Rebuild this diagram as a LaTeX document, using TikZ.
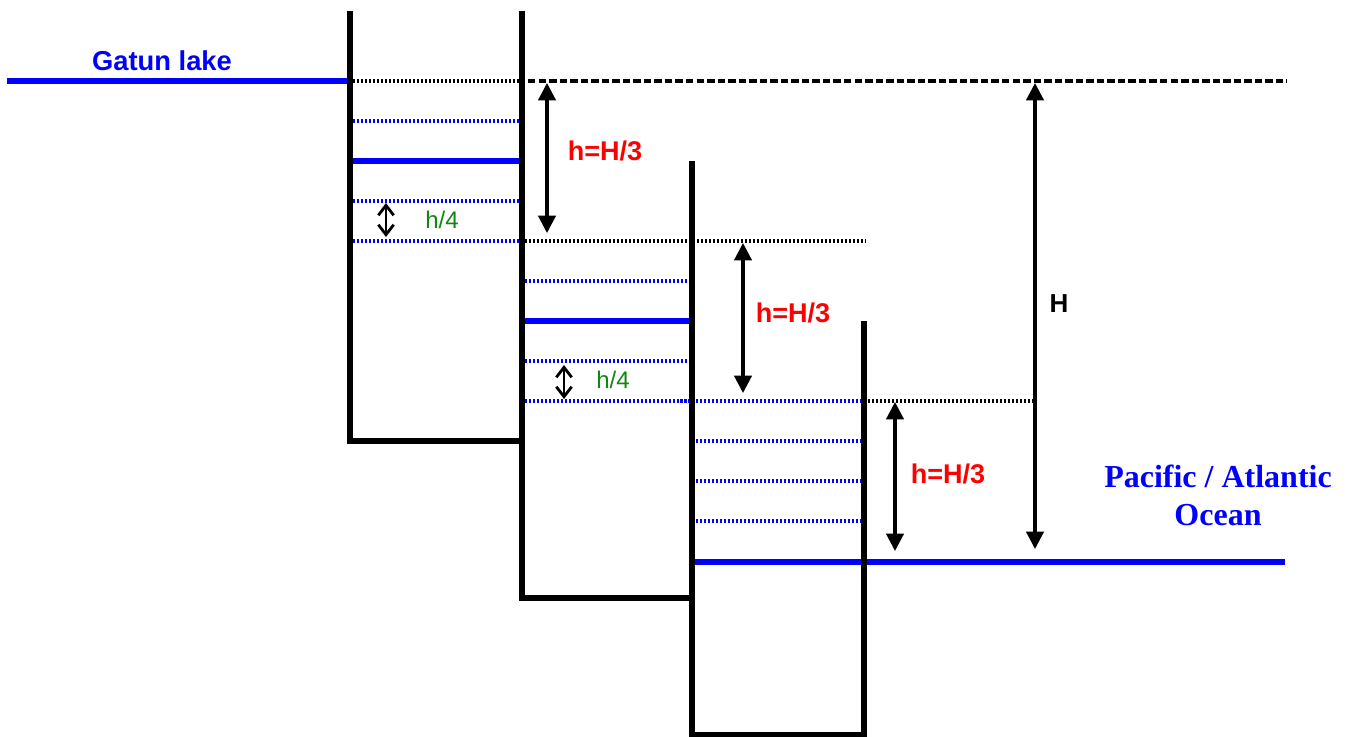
\documentclass[tikz,border=0pt]{standalone}
\usepackage{fontspec}
\setmainfont{Liberation Sans}
\newfontfamily\serifbold[BoldFont=Liberation Serif Bold]{Liberation Serif}
\usetikzlibrary{arrows.meta}
\definecolor{lockgreen}{RGB}{16,135,16}
\tikzset{
  x=0.75pt,y=-0.75pt,
  wall/.style={line width=4.4pt,line join=miter,line cap=butt},
  water/.style={line width=4.2pt,blue},
  level/.style={line width=2.6pt,blue,dash pattern=on 1.5pt off 1.5pt},
  ref/.style={line width=2.6pt,black,dash pattern=on 1.5pt off 1.5pt},
  refdash/.style={line width=2.6pt,black,dash pattern=on 5.6pt off 2.3pt},
  dim/.style={line width=2.3pt,{Triangle[length=13pt,width=13pt]}-{Triangle[length=13pt,width=13pt]}},
  smalldim/.style={line width=2.1pt,{Straight Barb[length=7.5pt,width=11.5pt,line width=2.1pt]}-{Straight Barb[length=7.5pt,width=11.5pt,line width=2.1pt]}},
  hlabel/.style={font=\bfseries\fontsize{20.3pt}{22pt}\selectfont,red,inner sep=0pt},
  qlabel/.style={font=\fontsize{18pt}{20pt}\selectfont,lockgreen,inner sep=0pt},
  place/.style={font=\serifbold\bfseries\fontsize{24pt}{28.5pt}\selectfont,blue,inner sep=0pt,align=center},
}
\begin{document}
\begin{tikzpicture}
\useasboundingbox (0,0) rectangle (1350,736);
% water levels
\draw[water] (7,81) -- (347,81);
\draw[ref] (353,81) -- (520,81);
\draw[refdash] (528,81) -- (1287,81);
\foreach \y in {121,201,241} \draw[level] (353,\y) -- (520,\y);
\draw[water] (353,161) -- (520,161);
\draw[ref] (525,241) -- (866,241);
\foreach \y in {281,361,401} \draw[level] (525,\y) -- (691,\y);
\draw[water] (525,321) -- (691,321);
\draw[level] (680,401) -- (862,401);
\foreach \y in {441,481,521} \draw[level] (696,\y) -- (862,\y);
\draw[water] (695,562) -- (862,562);
\draw[water] (867,562) -- (1285,562);
\draw[ref] (868,401) -- (1035,401);
% walls
\draw[wall] (350,11) -- (350,441) -- (522,441);
\draw[wall] (522,11) -- (522,598) -- (692,598);
\draw[wall] (692,161) -- (692,734.5) -- (864,734.5) -- (864,321);
% dimension arrows
\coordinate (a1) at (547,83); \coordinate (b1) at (547,233);
\coordinate (a2) at (743,243); \coordinate (b2) at (743,393);
\coordinate (a3) at (895,402); \coordinate (b3) at (895,551);
\coordinate (a4) at (1035,83); \coordinate (b4) at (1035,549);
\coordinate (a5) at (386,203); \coordinate (b5) at (386,237);
\coordinate (a6) at (564,365); \coordinate (b6) at (564,399);
\draw[dim] (a1) -- (b1);
\draw[dim] (a2) -- (b2);
\draw[dim] (a3) -- (b3);
\draw[dim] (a4) -- (b4);
\draw[smalldim] (a5) -- (b5);
\draw[smalldim] (a6) -- (b6);
% labels
\node[font=\bfseries\fontsize{20.5pt}{22pt}\selectfont,blue,inner sep=0pt] (gatun) at (162,61) {Gatun lake};
\node[hlabel] (h1) at (605,151) {h=H/3};
\node[hlabel] (h2) at (793,313) {h=H/3};
\node[hlabel] (h3) at (948,474) {h=H/3};
\node[qlabel] (q1) at (442,220) {h/4};
\node[qlabel] (q2) at (613,380) {h/4};
\node[font=\bfseries\fontsize{19.5pt}{22pt}\selectfont,inner sep=0pt] (H) at (1059,304) {H};
\node[place] (ocean) at (1218,495) {Pacific / Atlantic\\Ocean};
\end{tikzpicture}
\end{document}
